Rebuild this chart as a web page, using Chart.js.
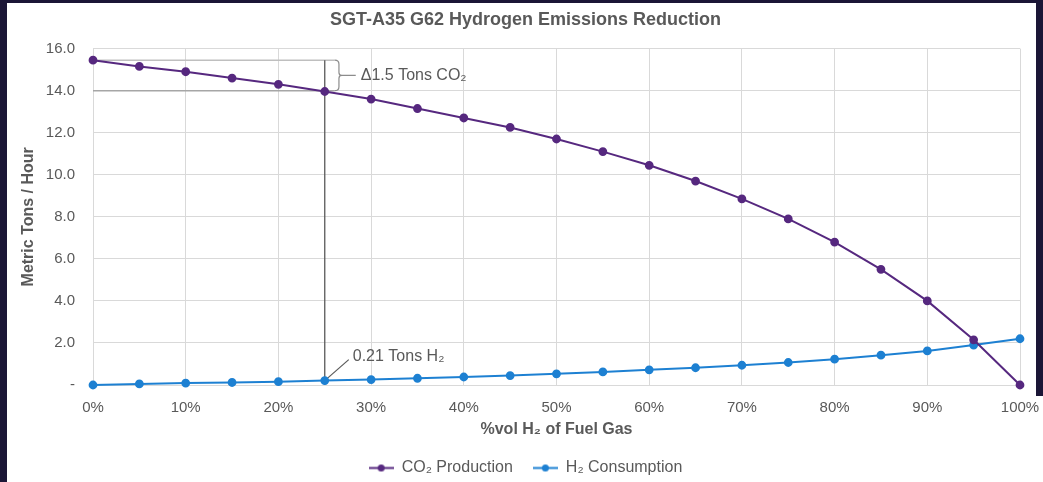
<!DOCTYPE html>
<html>
<head>
<meta charset="utf-8">
<script src="https://cdn.jsdelivr.net/npm/chart.js@4/dist/chart.umd.min.js"></script>
<style>
  html, body { margin: 0; padding: 0; background: #1b1636; }
  #wrap { position: absolute; left: 0; top: 0; width: 1043px; height: 482px; }
</style>
</head>
<body>
<div id="wrap"><canvas id="c" width="1043" height="482"></canvas></div>
<script>
// ---- Data ----
const h2Percent = [0, 5, 10, 15, 20, 25, 30, 35, 40, 45, 50, 55, 60, 65, 70, 75, 80, 85, 90, 95, 100];
const co2Production = [15.45, 15.15, 14.9, 14.6, 14.3, 13.96, 13.6, 13.15, 12.7, 12.25, 11.7, 11.1, 10.45, 9.7, 8.85, 7.9, 6.8, 5.5, 4.0, 2.15, 0];
const h2Consumption = [0, 0.05, 0.09, 0.12, 0.16, 0.21, 0.26, 0.32, 0.38, 0.45, 0.53, 0.62, 0.72, 0.82, 0.94, 1.07, 1.23, 1.42, 1.62, 1.9, 2.2];
const seriesNames = ['CO₂ Production', 'H₂ Consumption'];
const xTickValues = [0, 10, 20, 30, 40, 50, 60, 70, 80, 90, 100];
const yTickValues = [0, 2, 4, 6, 8, 10, 12, 14, 16];
const annotX = 25;               // % H2 marked
const annotCO2Top = 15.45;       // CO2 at 0%
const annotCO2Bottom = 14.0;     // CO2 reference at 25%
const annotH2 = 0.21;            // H2 at 25%
const annotLabels = ['Δ1.5 Tons CO₂', '0.21 Tons H₂'];

const PURPLE = '#56287f';
const BLUE = '#1d80d2';
const TEXT = '#595959';
const GRID = '#d9d9d9';
const FONT = '"Liberation Sans", Arial, sans-serif';

function legendIcon(color) {
  const c = document.createElement('canvas');
  c.width = 25; c.height = 9;
  const g = c.getContext('2d');
  g.strokeStyle = color; g.lineWidth = 2;
  g.beginPath(); g.moveTo(0, 4.5); g.lineTo(25, 4.5); g.stroke();
  g.fillStyle = color;
  g.beginPath(); g.arc(12.5, 4.5, 3.5, 0, Math.PI * 2); g.fill();
  return c;
}

const framePlugin = {
  id: 'frame',
  beforeDraw(chart) {
    const ctx = chart.ctx;
    ctx.save();
    ctx.fillStyle = '#1b1636';
    ctx.fillRect(0, 0, chart.width, chart.height);
    ctx.fillStyle = '#ffffff';
    ctx.fillRect(7, 3, 1029, 479);
    ctx.fillRect(7, 396, 1036, 86);
    ctx.restore();
  }
};

const annotPlugin = {
  id: 'annot',
  beforeDatasetsDraw(chart) {
    const ctx = chart.ctx, xs = chart.scales.x, ys = chart.scales.y;
    const x0 = xs.getPixelForValue(0);
    const xa = xs.getPixelForValue(annotX);
    const yTop = ys.getPixelForValue(annotCO2Top);
    const yBot = ys.getPixelForValue(annotCO2Bottom);
    const y0 = ys.getPixelForValue(0);
    ctx.save();
    ctx.lineWidth = 1.5;
    ctx.strokeStyle = '#bfbfbf';
    ctx.beginPath();
    ctx.moveTo(x0, yTop); ctx.lineTo(xa + 10, yTop);
    ctx.stroke();
    ctx.strokeStyle = '#a6a6a6';
    ctx.beginPath();
    ctx.moveTo(x0, yBot); ctx.lineTo(xa + 10, yBot);
    ctx.stroke();
    ctx.strokeStyle = '#595959';
    ctx.lineWidth = 1.3;
    ctx.beginPath();
    ctx.moveTo(xa, yTop); ctx.lineTo(xa, y0);
    ctx.stroke();
    // curly brace
    const bx = xa + 10, mid = (yTop + yBot) / 2, w = 7;
    ctx.strokeStyle = '#8c8c8c';
    ctx.lineWidth = 1.2;
    ctx.beginPath();
    ctx.moveTo(bx, yTop);
    ctx.quadraticCurveTo(bx + w * 0.6, yTop, bx + w * 0.6, yTop + 4);
    ctx.lineTo(bx + w * 0.6, mid - 3);
    ctx.quadraticCurveTo(bx + w * 0.6, mid, bx + w, mid);
    ctx.quadraticCurveTo(bx + w * 0.6, mid, bx + w * 0.6, mid + 3);
    ctx.lineTo(bx + w * 0.6, yBot - 4);
    ctx.quadraticCurveTo(bx + w * 0.6, yBot, bx, yBot);
    ctx.moveTo(bx + w, mid); ctx.lineTo(bx + w + 14, mid);
    ctx.stroke();
    ctx.fillStyle = TEXT;
    ctx.font = '16px ' + FONT;
    ctx.textBaseline = 'middle';
    ctx.textAlign = 'left';
    ctx.fillText(annotLabels[0], bx + w + 19, mid);
    // H2 leader
    const yh = ys.getPixelForValue(annotH2);
    ctx.strokeStyle = '#595959';
    ctx.lineWidth = 1.2;
    ctx.beginPath();
    ctx.moveTo(xa, yh); ctx.lineTo(xa + 24, yh - 21);
    ctx.stroke();
    ctx.fillText(annotLabels[1], xa + 28, yh - 24);
    ctx.restore();
  }
};

new Chart(document.getElementById('c'), {
  type: 'line',
  data: {
    datasets: [
      {
        label: seriesNames[0],
        data: h2Percent.map((x, i) => ({ x, y: co2Production[i] })),
        borderColor: PURPLE, backgroundColor: PURPLE,
        borderWidth: 2, pointRadius: 3.4, pointHoverRadius: 3.4,
        pointStyle: 'circle', tension: 0, clip: false
      },
      {
        label: seriesNames[1],
        data: h2Percent.map((x, i) => ({ x, y: h2Consumption[i] })),
        borderColor: BLUE, backgroundColor: BLUE,
        borderWidth: 2, pointRadius: 3.4, pointHoverRadius: 3.4,
        pointStyle: 'circle', tension: 0, clip: false
      }
    ]
  },
  options: {
    responsive: false,
    animation: false,
    layout: { padding: { left: 12, right: 4, top: 4, bottom: -4 } },
    plugins: {
      title: {
        display: true,
        text: 'SGT-A35 G62 Hydrogen Emissions Reduction',
        color: TEXT,
        font: { family: FONT, size: 18, weight: 'bold' },
        padding: { top: 5, bottom: 18 }
      },
      legend: {
        position: 'bottom',
        labels: {
          color: TEXT,
          font: { family: FONT, size: 16 },
          usePointStyle: true,
          pointStyleWidth: 25,
          boxWidth: 25,
          padding: 20,
          generateLabels(chart) {
            return chart.data.datasets.map((d, i) => ({
              text: d.label, fontColor: TEXT,
              pointStyle: legendIcon(d.borderColor),
              strokeStyle: d.borderColor, fillStyle: d.borderColor,
              lineWidth: 0, datasetIndex: i, hidden: false
            }));
          }
        }
      },
      tooltip: { enabled: false }
    },
    scales: {
      x: {
        type: 'linear', min: 0, max: 100,
        afterBuildTicks(s) { s.ticks = xTickValues.map(v => ({ value: v })); },
        afterFit(s) { s.height = 55; s.paddingRight = 23; },
        ticks: { color: TEXT, font: { family: FONT, size: 15 }, padding: 14, callback: v => v + '%' },
        grid: { color: GRID, drawTicks: false },
        border: { color: GRID },
        title: {
          display: true, text: '%vol H₂ of Fuel Gas', color: TEXT,
          font: { family: FONT, size: 16, weight: 'bold' }, padding: { top: 2, bottom: 0.5 }
        }
      },
      y: {
        min: 0, max: 16,
        afterBuildTicks(s) { s.ticks = yTickValues.map(v => ({ value: v })); },
        afterFit(s) { s.width = 81; },
        ticks: { color: TEXT, font: { family: FONT, size: 15 }, padding: 18,
          callback: v => v === 0 ? '-' : v.toFixed(1) },
        grid: { color: GRID, drawTicks: false },
        border: { color: GRID },
        title: {
          display: true, text: 'Metric Tons / Hour', color: TEXT,
          font: { family: FONT, size: 16, weight: 'bold' }, padding: { top: 7, bottom: 4 }
        }
      }
    }
  },
  plugins: [framePlugin, annotPlugin]
});
</script>
</body>
</html>
